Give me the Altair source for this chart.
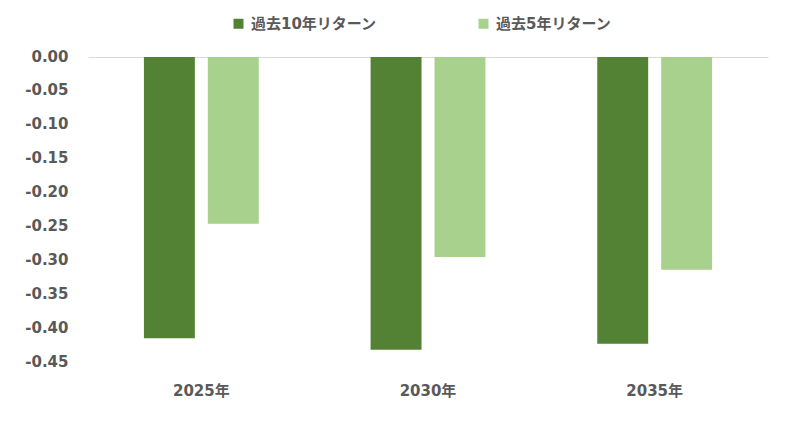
import altair as alt
import pandas as pd

categories = ["2025年", "2030年", "2035年"]
series_names = ["過去10年リターン", "過去5年リターン"]
ret10 = [-0.415, -0.432, -0.423]
ret5 = [-0.246, -0.295, -0.314]
y_ticks = [0.0, -0.05, -0.10, -0.15, -0.20, -0.25, -0.30, -0.35, -0.40, -0.45]
colors = ["#548235", "#A9D18E"]

rows = []
for c, a, b in zip(categories, ret10, ret5):
    rows.append({"year": c, "series": series_names[0], "value": a})
    rows.append({"year": c, "series": series_names[1], "value": b})
df = pd.DataFrame(rows)

FONT = "'DejaVu Sans', 'Noto Sans CJK JP', sans-serif"
TXT = "#595959"

chart = alt.Chart(df).mark_bar().encode(
    x=alt.X("year:N", sort=categories, title=None,
            scale=alt.Scale(paddingInner=0, paddingOuter=0),
            axis=alt.Axis(labelAngle=0, domain=False, ticks=False, labelPadding=21,
                          labelFontSize=15, labelFontWeight="bold", labelColor=TXT,
                          labelFont=FONT, labelBaseline="top")),
    xOffset=alt.XOffset("series:N", sort=series_names,
                        scale=alt.Scale(paddingInner=0.203, paddingOuter=0.875)),
    y=alt.Y("value:Q", title=None,
            scale=alt.Scale(domain=[-0.45, 0], nice=False, zero=False),
            axis=alt.Axis(values=y_ticks, grid=True,
                          gridColor={"condition": {"test": "abs(datum.value) < 0.001", "value": "#d9d9d9"},
                                     "value": "transparent"},
                          domain=False, ticks=False,
                          labelExpr="replace(format(datum.value, '.2f'), '\u2212', '-')",
                          labelOverlap=False, labelBound=False, labelFlush=False,
                          labelPadding=20, labelFontSize=15, labelFontWeight="bold",
                          labelColor=TXT, labelFont=FONT, labelOffset=-1)),
    color=alt.Color("series:N", sort=series_names,
                    scale=alt.Scale(domain=series_names, range=colors),
                    legend=alt.Legend(title=None, orient="none", legendX=143, legendY=-41,
                                      direction="horizontal", columns=2, columnPadding=99,
                                      symbolType="square", symbolSize=100, symbolStrokeWidth=0,
                                      labelOffset=5, labelFontSize=15, labelFontWeight="bold",
                                      labelColor=TXT, labelFont=FONT, labelLimit=300)),
).properties(
    width=680, height=305,
    background="white",
    autosize=alt.AutoSizeParams(type="none"),
    padding={"left": 80, "top": 49, "right": 10, "bottom": 50},
).configure_view(strokeWidth=0, stroke=None)

chart.save("out.html", embed_options={"renderer": "svg", "actions": False})
